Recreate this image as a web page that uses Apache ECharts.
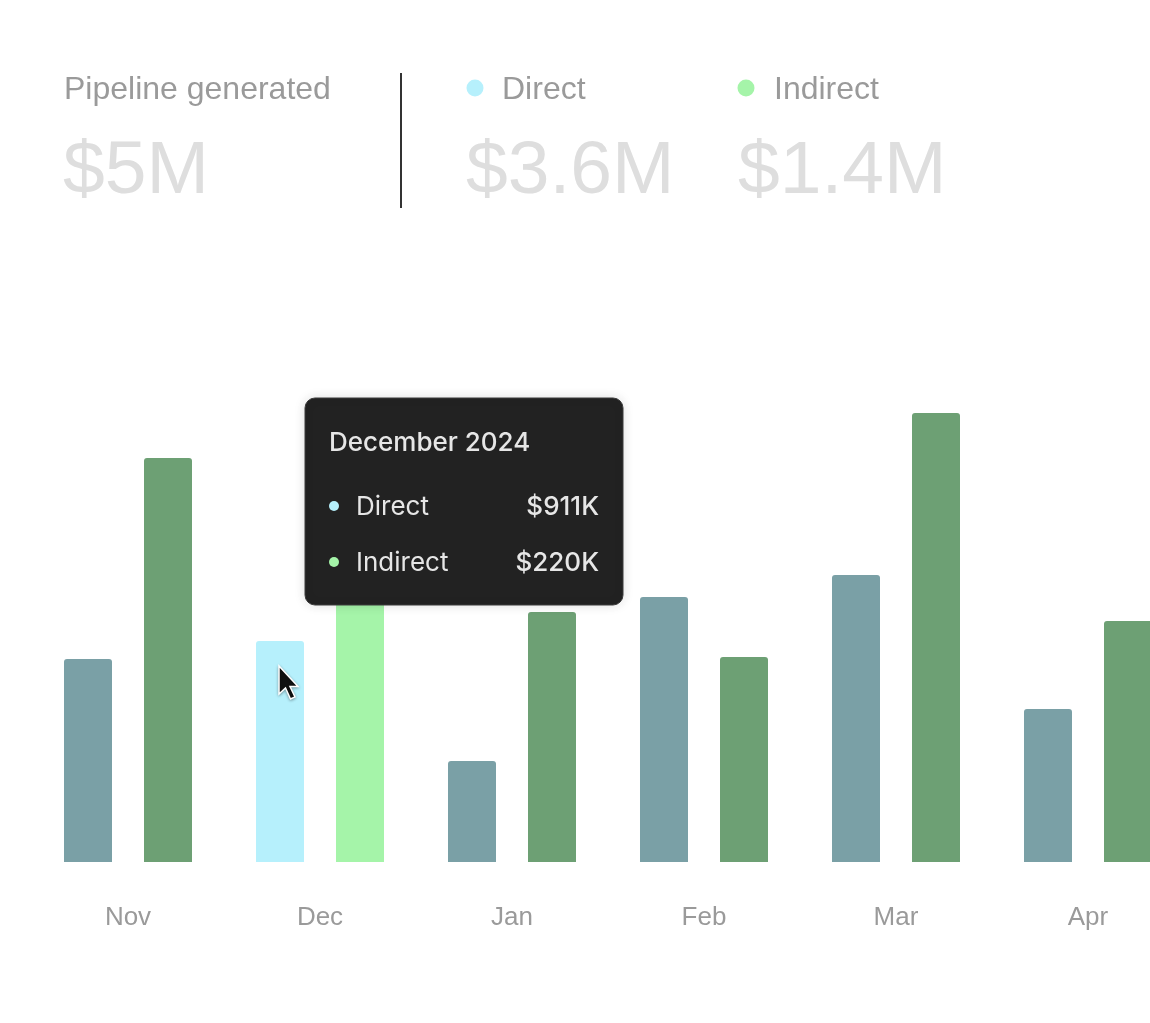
<!DOCTYPE html>
<html>
<head>
<meta charset="utf-8">
<script src="https://cdn.jsdelivr.net/npm/echarts@6/dist/echarts.min.js"></script>
<style>
html,body{margin:0;padding:0;background:#fff;}
#c{width:1150px;height:1023px;}
</style>
</head>
<body>
<div id="c"></div>
<script>
// ---- data ----
const months = ['Nov', 'Dec', 'Jan', 'Feb', 'Mar', 'Apr'];
const directValues = [203, 221, 101, 265, 287, 153];
const indirectValues = [404, 300, 250, 205, 449, 241];
const highlightIndex = 1;
const seriesNames = ['Direct', 'Indirect'];
const headerLabel = 'Pipeline generated';
const headerTotals = ['$5M', '$3.6M', '$1.4M'];
const tooltipTitle = 'December 2024';
const tooltipValues = ['$911K', '$220K'];

const colors = {
  direct: '#7aa0a6', directHi: '#b6f0fc',
  indirect: '#6da074', indirectHi: '#a5f4a9'
};

function mk(values, base, hi) {
  return values.map((v, i) => ({
    value: v,
    itemStyle: { color: i === highlightIndex ? hi : base }
  }));
}

const FONT = '"Liberation Sans", Arial, sans-serif';
const TFONT = 'Inter, "Liberation Sans", sans-serif';

const chart = echarts.init(document.getElementById('c'), null, { renderer: 'canvas' });

const graphics = [
  // header
  { type: 'text', x: 64, y: 90, style: { text: headerLabel, font: '32px ' + FONT, fill: '#9a9a9a', textVerticalAlign: 'middle' } },
  { type: 'text', x: 63, y: 172, style: { text: headerTotals[0], font: '75px ' + FONT, fill: '#dedede', textVerticalAlign: 'middle' } },
  { type: 'rect', shape: { x: 400, y: 73, width: 2, height: 135 }, style: { fill: '#333' } },
  { type: 'circle', shape: { cx: 475, cy: 88, r: 8.5 }, style: { fill: colors.directHi } },
  { type: 'text', x: 502, y: 90, style: { text: seriesNames[0], font: '32px ' + FONT, fill: '#9a9a9a', textVerticalAlign: 'middle' } },
  { type: 'text', x: 466, y: 172, style: { text: headerTotals[1], font: '75px ' + FONT, fill: '#dedede', textVerticalAlign: 'middle' } },
  { type: 'circle', shape: { cx: 746, cy: 88, r: 8.5 }, style: { fill: colors.indirectHi } },
  { type: 'text', x: 774, y: 90, style: { text: seriesNames[1], font: '32px ' + FONT, fill: '#9a9a9a', textVerticalAlign: 'middle' } },
  { type: 'text', x: 738, y: 172, style: { text: headerTotals[2], font: '75px ' + FONT, fill: '#dedede', textVerticalAlign: 'middle' } },
  // tooltip
  { type: 'rect', z: 100, shape: { x: 305, y: 398, width: 318, height: 207, r: 10 },
    style: { fill: '#222222', stroke: '#3c3c3c', lineWidth: 1, shadowBlur: 12, shadowColor: 'rgba(0,0,0,0.12)' } },
  { type: 'text', z: 101, x: 329, y: 443, style: { text: tooltipTitle, font: '500 26px ' + TFONT, fill: '#e6e6e6', textVerticalAlign: 'middle' } },
  { type: 'circle', z: 101, shape: { cx: 334, cy: 506, r: 5 }, style: { fill: colors.directHi } },
  { type: 'text', z: 101, x: 356, y: 507, style: { text: seriesNames[0], font: '26px ' + TFONT, fill: '#e6e6e6', textVerticalAlign: 'middle' } },
  { type: 'text', z: 101, x: 599, y: 507, style: { text: tooltipValues[0], font: '500 26px ' + TFONT, fill: '#e6e6e6', textAlign: 'right', textVerticalAlign: 'middle' } },
  { type: 'circle', z: 101, shape: { cx: 334, cy: 562, r: 5 }, style: { fill: colors.indirectHi } },
  { type: 'text', z: 101, x: 356, y: 563, style: { text: seriesNames[1], font: '26px ' + TFONT, fill: '#e6e6e6', textVerticalAlign: 'middle' } },
  { type: 'text', z: 101, x: 599, y: 563, style: { text: tooltipValues[1], font: '500 26px ' + TFONT, fill: '#e6e6e6', textAlign: 'right', textVerticalAlign: 'middle' } },
  // cursor
  { type: 'polygon', z: 110,
    shape: { points: [[279,666],[279,694],[285.5,688],[290.5,699],[295,697],[290,686.5],[298,686.5]] },
    style: { fill: '#111', stroke: '#fff', lineWidth: 1.5, shadowBlur: 3, shadowColor: 'rgba(0,0,0,0.3)', shadowOffsetY: 1 } }
];

chart.setOption({
  animation: false,
  backgroundColor: '#ffffff',
  grid: { left: 32, width: 1152, top: 362, bottom: 161, containLabel: false, outerBoundsMode: 'none' },
  xAxis: {
    type: 'category',
    data: months,
    axisLine: { show: false },
    axisTick: { show: false },
    axisLabel: { color: '#9a9a9a', fontSize: 26, fontFamily: FONT, margin: 43 }
  },
  yAxis: {
    type: 'value', min: 0, max: 500,
    show: false,
    splitLine: { show: false }
  },
  series: [
    { name: seriesNames[0], type: 'bar', barWidth: 48, barGap: '66.67%',
      itemStyle: { borderRadius: [3, 3, 0, 0] },
      data: mk(directValues, colors.direct, colors.directHi) },
    { name: seriesNames[1], type: 'bar', barWidth: 48, barGap: '66.67%',
      itemStyle: { borderRadius: [3, 3, 0, 0] },
      data: mk(indirectValues, colors.indirect, colors.indirectHi) }
  ],
  graphic: graphics
});
</script>
</body>
</html>
